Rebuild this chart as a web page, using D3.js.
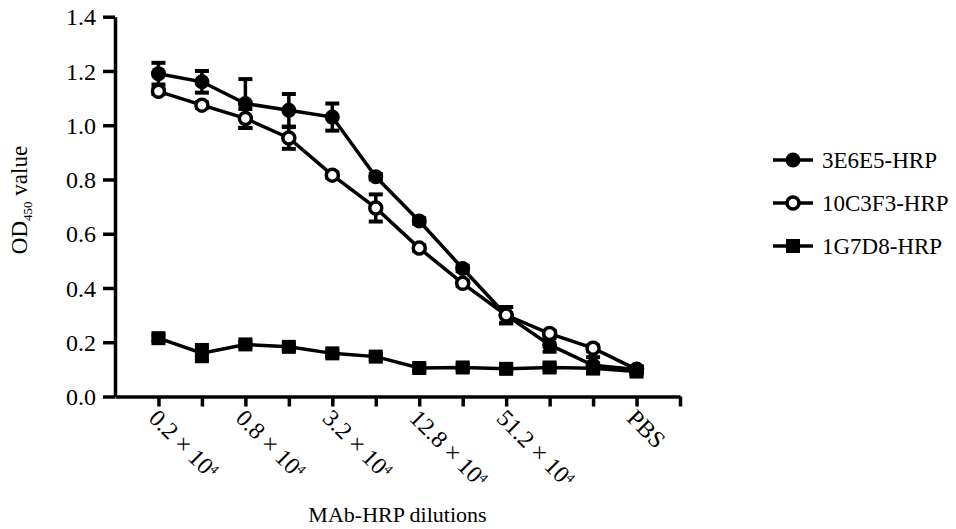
<!DOCTYPE html>
<html>
<head>
<meta charset="utf-8">
<script src="https://cdn.jsdelivr.net/npm/d3@7"></script>
<style>
  body { margin: 0; background: #fff; }
  svg text { font-family: "Liberation Serif", "Times New Roman", Times, "DejaVu Serif", serif; fill: #000; }
</style>
</head>
<body>
<div id="chart"></div>
<script>

// ======================= //
// DATA
// ======================= //

var dilutions = ["0.2", "", "0.8", "", "3.2", "", "12.8", "", "51.2", "", "", "PBS"]
var seriesNames = ["3E6E5-HRP", "10C3F3-HRP", "1G7D8-HRP"]

var od3E6E5  = [1.19, 1.16, 1.08, 1.055, 1.03, 0.81, 0.647, 0.472, 0.30, 0.19, 0.115, 0.10]
var err3E6E5 = [0.04, 0.04, 0.09, 0.06, 0.05, 0.01, 0.01, 0.01, 0.03, 0.025, 0.03, 0.01]

var od10C3F3  = [1.125, 1.074, 1.025, 0.953, 0.816, 0.695, 0.547, 0.417, 0.30, 0.232, 0.178, 0.10]
var err10C3F3 = [0.01, 0.01, 0.035, 0.04, 0.01, 0.05, 0.01, 0.01, 0.03, 0.01, 0.01, 0.01]

var od1G7D8  = [0.215, 0.16, 0.192, 0.183, 0.159, 0.147, 0.105, 0.107, 0.102, 0.107, 0.104, 0.092]
var err1G7D8 = [0.01, 0.03, 0.01, 0.01, 0.01, 0.01, 0.01, 0.01, 0.01, 0.01, 0.01, 0.01]

var yTicks = [0, 0.2, 0.4, 0.6, 0.8, 1.0, 1.2, 1.4]

var serif = "'Liberation Serif', 'Times New Roman', Times, 'DejaVu Serif', serif"


// ======================= //
// SVG, SCALES
// ======================= //

var width = 956, height = 529

var svg = d3.select("#chart")
  .append("svg")
    .attr("width", width)
    .attr("height", height)
    .attr("font-family", serif)

var x = d3.scaleLinear()
  .domain([-1, dilutions.length])
  .range([115, 680])

var y = d3.scaleLinear()
  .domain([0, 1.4])
  .range([396.5, 16.7])

// Y axis
var yAxis = svg.append("g")
  .attr("transform", "translate(" + x(-1) + ",0)")
  .call(d3.axisLeft(y).tickValues(yTicks).tickFormat(d3.format(".1f")).tickSize(12).tickSizeOuter(0).tickPadding(7))
yAxis.attr("font-family", serif).attr("font-size", 24)
yAxis.select(".domain").attr("stroke-width", 3.5).attr("stroke", "#000")
yAxis.selectAll(".tick line").attr("stroke-width", 3.5).attr("stroke", "#000")
yAxis.selectAll("text").attr("fill", "#000").attr("dy", "0.34em")

// X axis
var xTickVals = d3.range(0, dilutions.length + 1)
var xAxis = svg.append("g")
  .attr("transform", "translate(0," + y(0) + ")")
  .call(d3.axisBottom(x).tickValues(xTickVals).tickSize(10).tickSizeOuter(0).tickFormat(""))
xAxis.select(".domain").attr("stroke-width", 3.5).attr("stroke", "#000")
xAxis.selectAll(".tick line").attr("stroke-width", 3.5).attr("stroke", "#000")

// rotated dilution labels
var xLabels = svg.selectAll(".xlab")
  .data(dilutions.map(function(d, i){ return {lab: d, i: i} }).filter(function(d){ return d.lab != "" }))
  .enter()
  .append("text")
    .attr("class", "xlab")
    .attr("transform", function(d){ return "translate(" + (x(d.i) - 11) + "," + (y(0) + 23) + ")rotate(45)" })
    .attr("font-size", 24)
    .style("text-anchor", "start")
xLabels.each(function(d){
  var t = d3.select(this)
  if (d.lab == "PBS") { t.text("PBS"); return }
  t.append("tspan").text(d.lab + " \u00d7 10")
  t.append("tspan").attr("dy", -8).attr("font-size", 13).text("4")
})

// axis titles
svg.append("text")
  .attr("x", (x(-1) + x(dilutions.length)) / 2)
  .attr("y", 522)
  .style("text-anchor", "middle")
  .attr("font-size", 22)
  .text("MAb-HRP dilutions")

var yTitle = svg.append("text")
  .attr("transform", "translate(27," + 200 + ")rotate(-90)")
  .style("text-anchor", "middle")
  .attr("font-size", 23)
yTitle.append("tspan").text("OD")
yTitle.append("tspan").attr("dy", 5).attr("font-size", 13).text("450")
yTitle.append("tspan").attr("dy", -5).text(" value")


// ======================= //
// SHAPES
// ======================= //

var allSeries = [
  {name: seriesNames[0], vals: od3E6E5, errs: err3E6E5, shape: "filled"},
  {name: seriesNames[1], vals: od10C3F3, errs: err10C3F3, shape: "open"},
  {name: seriesNames[2], vals: od1G7D8, errs: err1G7D8, shape: "square"}
]

var line = d3.line()
  .x(function(d, i){ return x(i) })
  .y(function(d){ return y(d) })

function drawMarker(g, shape, cx, cy) {
  if (shape == "filled") {
    g.append("circle").attr("cx", cx).attr("cy", cy).attr("r", 7.5).attr("fill", "#000")
  } else if (shape == "open") {
    g.append("circle").attr("cx", cx).attr("cy", cy).attr("r", 6).attr("fill", "#fff")
      .attr("stroke", "#000").attr("stroke-width", 3.5)
  } else {
    g.append("rect").attr("x", cx - 7).attr("y", cy - 7).attr("width", 14).attr("height", 14).attr("fill", "#000")
  }
}

allSeries.forEach(function(s){
  var g = svg.append("g")

  g.append("path")
    .datum(s.vals)
    .attr("d", line)
    .attr("fill", "none")
    .attr("stroke", "#000")
    .attr("stroke-width", 3.5)

  // error bars
  s.vals.forEach(function(v, i){
    var e = s.errs[i]
    var cx = x(i)
    g.append("line").attr("x1", cx).attr("x2", cx).attr("y1", y(v - e)).attr("y2", y(v + e))
      .attr("stroke", "#000").attr("stroke-width", 3.5)
    ;[v - e, v + e].forEach(function(b){
      g.append("line").attr("x1", cx - 7).attr("x2", cx + 7).attr("y1", y(b)).attr("y2", y(b))
        .attr("stroke", "#000").attr("stroke-width", 4)
    })
  })

  s.vals.forEach(function(v, i){ drawMarker(g, s.shape, x(i), y(v)) })
})


// ======================= //
// LEGEND
// ======================= //

var legendY = [160, 203, 246]
var legend = svg.selectAll(".leg")
  .data(allSeries)
  .enter()
  .append("g")
    .attr("class", "leg")
    .attr("transform", function(d, i){ return "translate(773," + legendY[i] + ")" })

legend.append("line")
  .attr("x1", 0).attr("x2", 40).attr("y1", 0).attr("y2", 0)
  .attr("stroke", "#000").attr("stroke-width", 3.5)
legend.each(function(d){ drawMarker(d3.select(this), d.shape, 20, 0) })
legend.append("text")
  .attr("x", 49)
  .attr("y", 8)
  .attr("font-size", 23)
  .text(function(d){ return d.name })

</script>
</body>
</html>
